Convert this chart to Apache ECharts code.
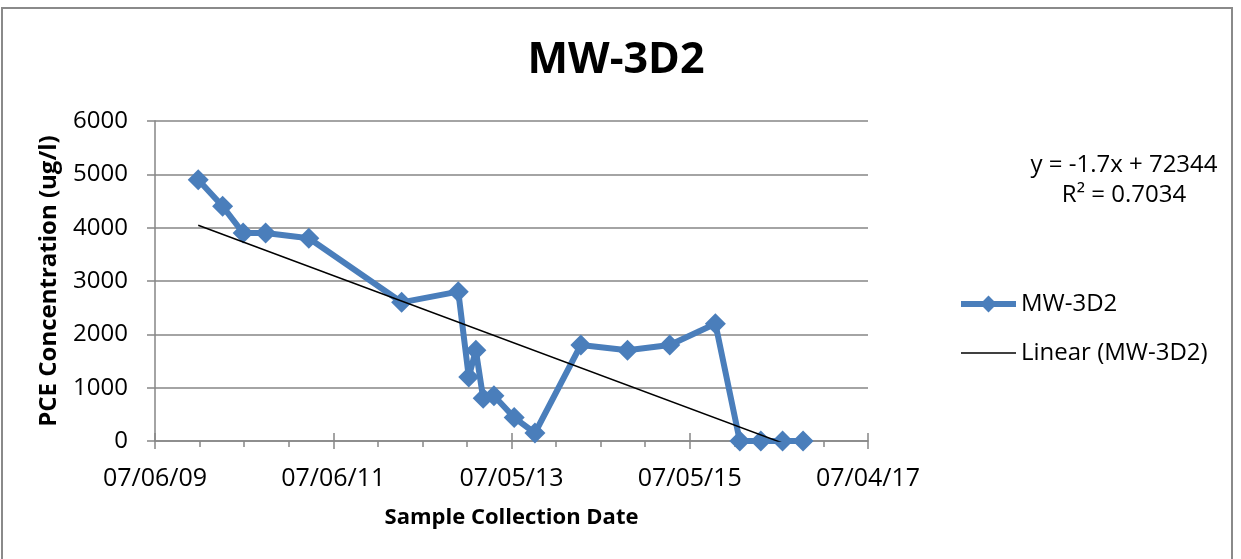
<!DOCTYPE html>
<html>
<head>
<meta charset="utf-8">
<script src="https://cdn.jsdelivr.net/npm/echarts@6/dist/echarts.min.js"></script>
<style>
html,body{margin:0;padding:0;background:#fff;}
#c{width:1241px;height:559px;}
</style>
</head>
<body>
<div id="c"></div>
<script>
// ---- data ----
var seriesName = 'MW-3D2';
var trendName = 'Linear (MW-3D2)';
var dates = ['2009-12-30','2010-04-09','2010-07-02','2010-10-02','2011-03-28','2012-04-11',
             '2012-11-29','2013-01-11','2013-02-09','2013-03-11','2013-04-24','2013-07-16',
             '2013-10-09','2014-04-15','2014-10-23','2015-04-14','2015-10-18','2016-01-26',
             '2016-04-21','2016-07-19','2016-10-11'];
var pce = [4900, 4400, 3900, 3900, 3800, 2600, 2800, 1200, 1700, 800, 850, 440, 150,
           1800, 1700, 1800, 2200, 0, 0, 0, 0];
var xTickLabels = ['07/06/09','07/06/11','07/05/13','07/05/15','07/04/17'];
var yTicks = [0, 1000, 2000, 3000, 4000, 5000, 6000];
var equationText = ['y = -1.7x + 72344', 'R² = 0.7034'];

// ---- helpers ----
function toSerial(s){
  var p = s.split('-');
  return Math.round((Date.UTC(+p[0], +p[1]-1, +p[2]) - Date.UTC(1899,11,30))/86400000);
}
function fmtSerial(v){
  var d = new Date(Date.UTC(1899,11,30) + Math.round(v)*86400000);
  var mm = ('0'+(d.getUTCMonth()+1)).slice(-2), dd = ('0'+d.getUTCDate()).slice(-2), yy = ('0'+(d.getUTCFullYear()%100)).slice(-2);
  return mm+'/'+dd+'/'+yy;
}
var xs = dates.map(toSerial);
var pts = xs.map(function(x,i){return [x, pce[i]];});
// least squares trendline
var n = xs.length, sx=0, sy=0, sxx=0, sxy=0;
for (var i=0;i<n;i++){sx+=xs[i];sy+=pce[i];sxx+=xs[i]*xs[i];sxy+=xs[i]*pce[i];}
var slope = (n*sxy - sx*sy)/(n*sxx - sx*sx);
var icpt = (sy - slope*sx)/n;
var x0 = xs[0], x1 = xs[n-1];
var trend = [[x0, slope*x0+icpt],[x1, slope*x1+icpt]];

var X_MIN = toSerial('2009-07-06'), X_INT = 730, X_MAX = X_MIN + 4*X_INT;
var font = '"Open Sans", "Liberation Sans", sans-serif';
var gridCol = '#868686';
var blue = '#4a7ebb';

var chart = echarts.init(document.getElementById('c'), null, {renderer:'canvas'});
chart.setOption({
  animation:false,
  backgroundColor:'#fff',
  textStyle:{fontFamily:font},
  title:{text:'MW-3D2', left:611, top:34, textAlign:'center',
    textStyle:{fontFamily:font, fontSize:43, fontWeight:'bold', color:'#000'}},
  grid:{left:155, right:373, top:121, bottom:118, containLabel:false},
  legend:{orient:'vertical', left:953, top:287, itemWidth:55, itemHeight:21, itemGap:25,
    textStyle:{fontFamily:font, fontSize:24, color:'#000'},
    data:[{name:seriesName, lineStyle:{width:6, color:blue}},
          {name:trendName, lineStyle:{width:1.5, color:'#000'}, itemStyle:{opacity:0}}]},
  xAxis:[{
    type:'value', min:X_MIN, max:X_MAX, interval:X_INT,
    name:'Sample Collection Date', nameLocation:'middle', nameGap:66,
    nameTextStyle:{fontFamily:font, fontSize:22, fontWeight:'bold', color:'#000'},
    axisLine:{show:true, onZero:false, lineStyle:{color:gridCol, width:1.5}},
    axisTick:{show:true, length:8, lineStyle:{color:gridCol, width:1.5}},
    minorTick:{show:true, splitNumber:4, length:6, lineStyle:{color:gridCol, width:1.5}},
    splitLine:{show:false},
    axisLabel:{margin:25, color:'#000', fontSize:25, fontFamily:font,
      formatter:function(v){
        var idx = Math.round((v - X_MIN)/X_INT);
        return xTickLabels[idx] || fmtSerial(v);
      }}
  },{
    type:'value', min:X_MIN, max:X_MAX, interval:X_INT, position:'bottom',
    axisLine:{show:false}, axisLabel:{show:false}, splitLine:{show:false},
    axisTick:{show:true, inside:true, length:8, lineStyle:{color:gridCol, width:1.5}}
  }],
  yAxis:{
    type:'value', min:yTicks[0], max:yTicks[yTicks.length-1], interval:1000,
    name:'PCE Concentration (ug/l)', nameLocation:'middle', nameGap:94,
    nameTextStyle:{fontFamily:font, fontSize:24, fontWeight:'bold', color:'#000'},
    axisLine:{show:true, lineStyle:{color:gridCol, width:1.5}},
    axisTick:{show:true, length:8, lineStyle:{color:gridCol, width:1.5}},
    splitLine:{show:true, lineStyle:{color:gridCol, width:1.5}},
    axisLabel:{margin:27, color:'#000', fontSize:24, fontFamily:font,
      formatter:function(v){ return String(v); }}
  },
  series:[{
    name:seriesName, type:'line', data:pts, xAxisIndex:0,
    symbol:'diamond', symbolSize:21, showSymbol:true,
    lineStyle:{color:blue, width:6},
    itemStyle:{color:blue},
    clip:false, z:3
  },{
    name:trendName, type:'line', data:trend, xAxisIndex:0,
    symbol:'circle', showSymbol:false, lineStyle:{color:'#000', width:1.5},
    itemStyle:{color:'rgba(0,0,0,0)'},
    clip:true, z:4
  }],
  graphic:[
    {type:'rect', shape:{x:2, y:8, width:1230, height:560}, style:{fill:null, stroke:'#8a8a8a', lineWidth:2}, silent:true},
    {type:'text', x:1124, y:165, style:{text:equationText[0], font:'24px '+font, fill:'#000', align:'center', verticalAlign:'middle'}},
    {type:'text', x:1124, y:195, style:{text:equationText[1], font:'24px '+font, fill:'#000', align:'center', verticalAlign:'middle'}}
  ]
});
</script>
</body>
</html>
